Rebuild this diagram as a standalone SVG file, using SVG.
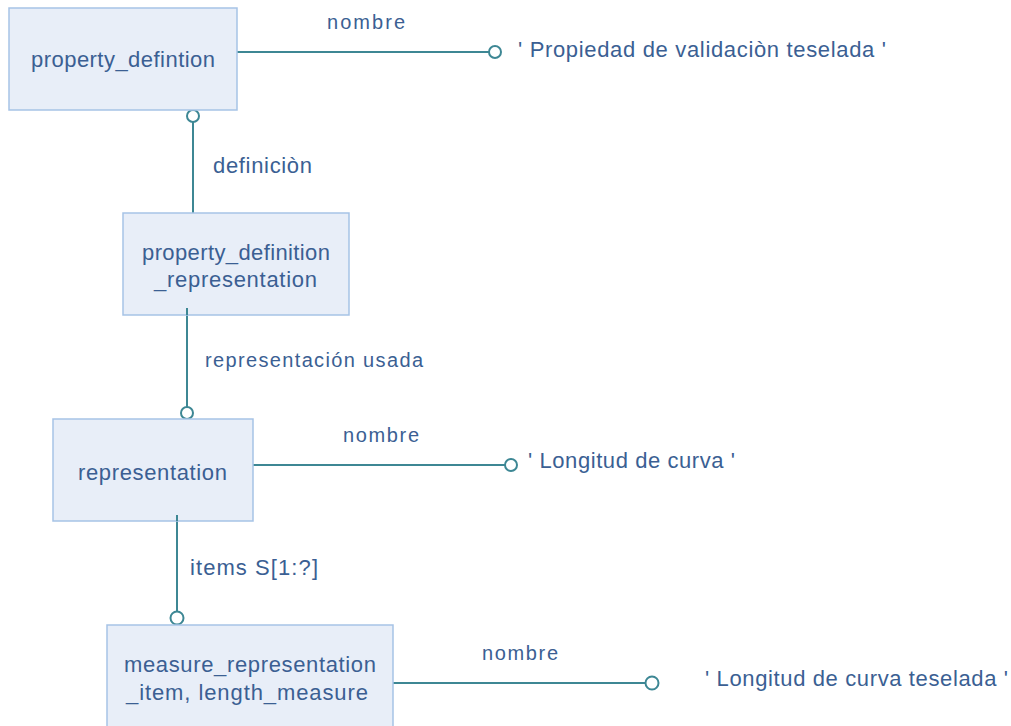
<svg xmlns="http://www.w3.org/2000/svg" width="1011" height="726" viewBox="0 0 1011 726">
<style>
.box{fill:#e8eef8;stroke:#a6c3e6;stroke-width:1.5}
.t{font-family:"Liberation Sans",Arial,sans-serif;font-size:22px;fill:#3b5f93}
.l{font-family:"Liberation Sans",Arial,sans-serif;font-size:20px;fill:#3b5f93}
.c{fill:none;stroke:#3d8794;stroke-width:2}
.o{fill:#ffffff;stroke:#3d8794;stroke-width:2}
</style>
<rect width="1011" height="726" fill="#ffffff"/>
<g id="connectors">
<line class="c" x1="237" y1="52" x2="489" y2="52"/>
<circle class="o" cx="495" cy="52" r="6"/>
<line class="c" x1="193" y1="122" x2="193" y2="213"/>
<circle class="o" cx="193" cy="116" r="6"/>
<line class="c" x1="187" y1="308" x2="187" y2="407"/>
<circle class="o" cx="187" cy="413" r="6"/>
<line class="c" x1="253" y1="465" x2="505" y2="465"/>
<circle class="o" cx="511" cy="465" r="6"/>
<line class="c" x1="177" y1="515" x2="177" y2="611"/>
<circle class="o" cx="177" cy="618" r="6.5"/>
<line class="c" x1="393" y1="683" x2="645" y2="683"/>
<circle class="o" cx="652" cy="683" r="6.5"/>
<text class="l" x="327" y="29" textLength="78" lengthAdjust="spacing">nombre</text>
<text class="t" x="213" y="173" textLength="99" lengthAdjust="spacing">definiciòn</text>
<text class="l" x="205" y="367" textLength="218" lengthAdjust="spacing">representación usada</text>
<text class="l" x="343" y="442" textLength="76" lengthAdjust="spacing">nombre</text>
<text class="t" x="190" y="575" textLength="128" lengthAdjust="spacing">items S[1:?]</text>
<text class="l" x="482" y="660" textLength="76" lengthAdjust="spacing">nombre</text>
</g>
<g id="property_defintion">
<rect class="box" x="9" y="8" width="228" height="102"/>
<text class="t" x="31" y="67" textLength="184" lengthAdjust="spacing">property_defintion</text>
</g>
<g id="value1">
<text class="t" x="518" y="57" textLength="368" lengthAdjust="spacing">' Propiedad de validaciòn teselada '</text>
</g>
<g id="property_definition_representation">
<rect class="box" x="123" y="213" width="226" height="102"/>
<line class="c" x1="187" y1="308" x2="187" y2="315"/>
<text class="t" x="142" y="260" textLength="188" lengthAdjust="spacing">property_definition</text>
<text class="t" x="154" y="287" textLength="163" lengthAdjust="spacing">_representation</text>
</g>
<g id="representation">
<rect class="box" x="53" y="419" width="200" height="102"/>
<line class="c" x1="177" y1="515" x2="177" y2="521"/>
<text class="t" x="78" y="480" textLength="149" lengthAdjust="spacing">representation</text>
</g>
<g id="value2">
<text class="t" x="528" y="468" textLength="207" lengthAdjust="spacing">' Longitud de curva '</text>
</g>
<g id="measure_representation_item">
<rect class="box" x="107" y="625" width="286" height="110"/>
<text class="t" x="124" y="672" textLength="252" lengthAdjust="spacing">measure_representation</text>
<text class="t" x="126" y="700" textLength="242" lengthAdjust="spacing">_item, length_measure</text>
</g>
<g id="value3">
<text class="t" x="705" y="686" textLength="303" lengthAdjust="spacing">' Longitud de curva teselada '</text>
</g>
</svg>
